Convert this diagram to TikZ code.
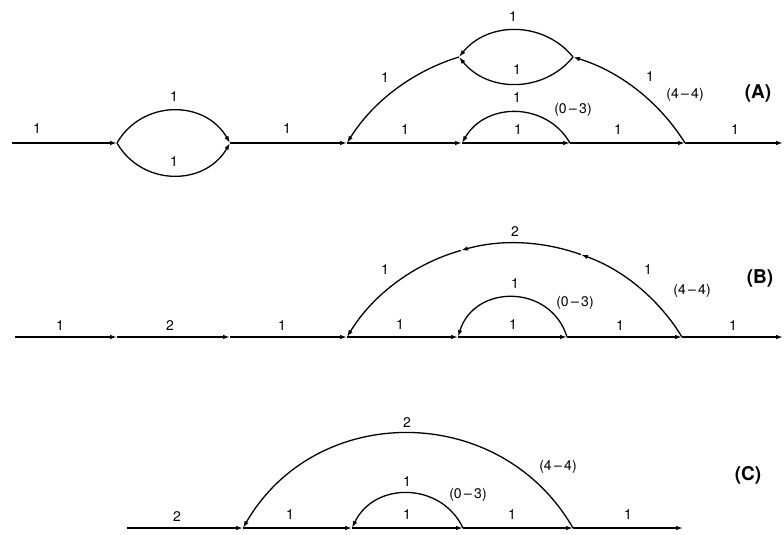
\documentclass[tikz,border=0pt]{standalone}
\usepackage{fontspec}
\setmainfont{TeX Gyre Heros}
\usetikzlibrary{arrows.meta}

\tikzset{
  flow/.style={line width=1.3pt, -{Latex[length=7pt,width=4.5pt]}},
  lbl/.style={font=\fontsize{14}{16}\selectfont, inner sep=0pt},
  tag/.style={font=\fontsize{14}{16}\selectfont, inner sep=0pt},
  case/.style={font=\bfseries\fontsize{19}{22}\selectfont, inner sep=0pt}
}

\begin{document}
\begin{tikzpicture}[x=1pt,y=1pt]
\useasboundingbox (0,0) rectangle (784,-535);

% Graph (A)
\coordinate (a0) at (12,-143);
\coordinate (a1) at (117,-143);
\coordinate (a2) at (230,-143);
\coordinate (a3) at (347,-143);
\coordinate (a4) at (462,-143);
\coordinate (a5) at (570,-143);
\coordinate (a6) at (685,-143);
\coordinate (a7) at (783,-143);
\coordinate (u1) at (459,-57);
\coordinate (u2) at (573,-57);

\foreach \p/\q in {a0/a1,a2/a3,a3/a4,a4/a5,a5/a6,a6/a7}
  \draw[flow] (\p) -- (\q);
\draw[flow] (a1) to[bend left=60,looseness=1.14] (a2);
\draw[flow] (a1) to[bend right=60,looseness=1.14] (a2);
\draw[flow] (a5) to[bend right=60,looseness=1.13] (a4);
\draw[flow] (a6) to[out=122,in=-17,looseness=0.88] (u2);
\draw[flow] (u2) to[bend right=51,looseness=1.04] (u1);
\draw[flow] (u2) to[bend left=51,looseness=1.04] (u1);
\draw[flow] (u1) to[out=197,in=58,looseness=0.88] (a3);

\foreach \x/\y/\t [count=\i] in {37/129/1,174/97/1,174/162/1,287/129/1,
    385/78/1,513/17/1,517/70/1,650/77/1,517/98/1,
    405/130/1,518/130/1,618/130/1,735/130/1}
  \node[lbl] (la\i) at (\x,-\y) {\t};
\node[tag] (tagA1) at (573,-110) {(0\,–\,3)};
\node[tag] (tagA2) at (685,-95) {(4\,–\,4)};
\node[case] (caseA) at (758,-93) {(A)};

% Graph (B)
\coordinate (b0) at (15,-337);
\coordinate (b1) at (117,-337);
\coordinate (b2) at (230,-337);
\coordinate (b3) at (347,-337);
\coordinate (b4) at (458,-337);
\coordinate (b5) at (567,-337);
\coordinate (b6) at (682,-337);
\coordinate (b7) at (783,-337);
\coordinate (v1) at (461,-250.4);
\coordinate (v2) at (581,-254.6);

\foreach \p/\q in {b0/b1,b1/b2,b2/b3,b3/b4,b4/b5,b5/b6,b6/b7}
  \draw[flow] (\p) -- (\q);
\draw[flow] (b5) to[bend right=73,looseness=1.31] (b4);
\draw[flow] (b6) to[out=121.4,in=-19.8,looseness=0.88] (v2);
\draw[flow] (v2) to[out=160.2,in=15.8,looseness=0.88] (v1);
\draw[flow] (v1) to[out=195.8,in=58.6,looseness=0.88] (b3);

\foreach \x/\y/\t [count=\i] in {60/326/1,170/326/2,282/326/1,
    385/270/1,515/232/2,648/270/1,515/284/1,
    400/325/1,513/325/1,620/326/1,733/326/1}
  \node[lbl] (lb\i) at (\x,-\y) {\t};
\node[tag] (tagB1) at (575,-303) {(0\,–\,3)};
\node[tag] (tagB2) at (692,-291) {(4\,–\,4)};
\node[case] (caseB) at (760,-278) {(B)};

% Graph (C)
\coordinate (c0) at (127,-528);
\coordinate (c1) at (243,-528);
\coordinate (c2) at (352,-528);
\coordinate (c3) at (463,-528);
\coordinate (c4) at (573,-528);
\coordinate (c5) at (683,-528);

\foreach \p/\q in {c0/c1,c1/c2,c2/c3,c3/c4,c4/c5}
  \draw[flow] (\p) -- (\q);
\draw[flow] (c4) to[bend right=60,looseness=1.135] (c1);
\draw[flow] (c3) to[bend right=64.5,looseness=1.19] (c2);

\foreach \x/\y/\t [count=\i] in {177/517/2,290/515/1,407/515/1,407/482/1,
    512/515/1,628/515/1,407/423/2}
  \node[lbl] (lc\i) at (\x,-\y) {\t};
\node[tag] (tagC1) at (468,-495) {(0\,–\,3)};
\node[tag] (tagC2) at (558,-467) {(4\,–\,4)};
\node[case] (caseC) at (748,-475) {(C)};

\end{tikzpicture}
\end{document}
